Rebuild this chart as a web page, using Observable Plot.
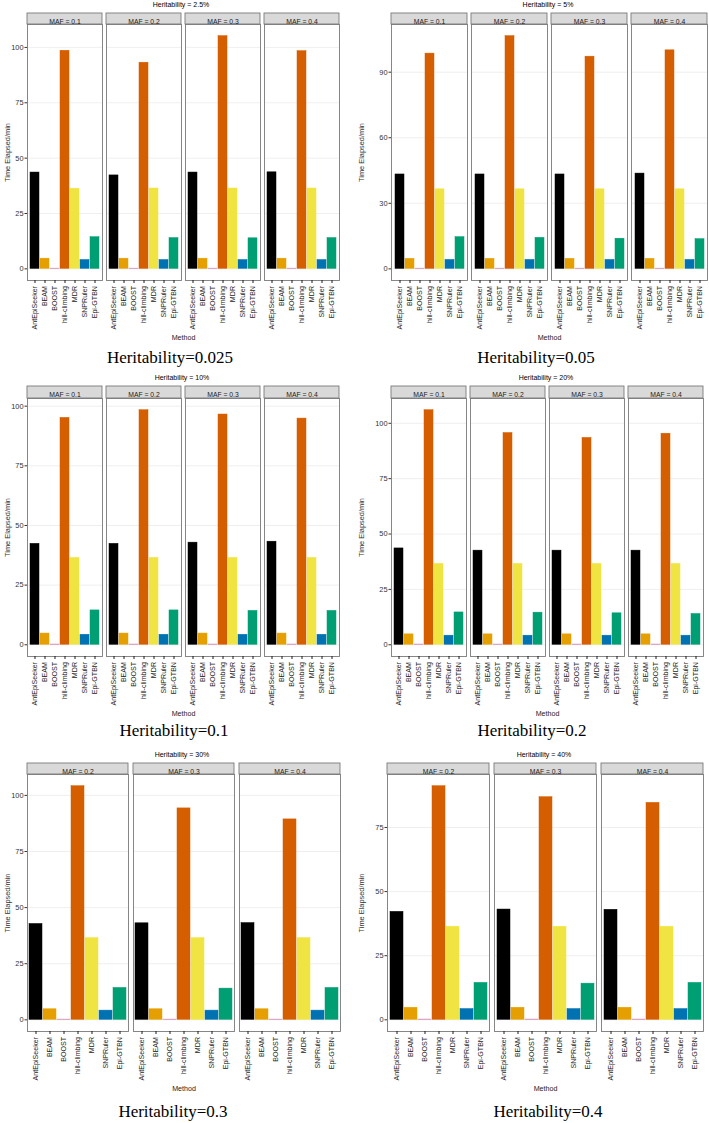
<!DOCTYPE html>
<html><head><meta charset="utf-8">
<script src="https://cdn.jsdelivr.net/npm/d3@7"></script>
<script src="https://cdn.jsdelivr.net/npm/@observablehq/plot@0.6"></script>
<style>
body{margin:0;background:#fff;}
#root{position:relative;width:709px;height:1123px;overflow:hidden;font-family:"Liberation Sans",Arial,sans-serif;}
.ttl{position:absolute;font-size:7px;color:#000;white-space:nowrap;transform:translate(-50%,-50%);}
.cap{position:absolute;font-family:"Liberation Serif","Times New Roman",serif;font-size:17px;color:#000;white-space:nowrap;transform:translate(-50%,-50%);}
.pnl{position:absolute;}
</style></head><body><div id="root"></div>
<script>
// ---- data ----
const methods = ["AntEpiSeeker","BEAM","BOOST","hill-climbing","MDR","SNPRuler","Epi-GTBN"];
const methodColors = ["#000000","#E69F00","#CC79A7","#D55E00","#F0E442","#0072B2","#009E73"];

const mafs4 = ["0.1","0.2","0.3","0.4"];
const mafs3 = ["0.2","0.3","0.4"];

const h025 = [
  [43.5, 4.6, 0.1,  98.5, 36.2, 4.0, 14.3],
  [42.2, 4.6, 0.1,  93.1, 36.3, 4.0, 13.9],
  [43.5, 4.6, 0.1, 105.1, 36.3, 4.0, 13.8],
  [43.6, 4.6, 0.1,  98.3, 36.3, 4.0, 13.9]
];
const h05 = [
  [43.2, 4.6, 0.1,  98.5, 36.4, 4.1, 14.5],
  [43.2, 4.6, 0.1, 106.5, 36.4, 4.1, 14.2],
  [43.2, 4.6, 0.1,  97.1, 36.4, 4.1, 13.8],
  [43.6, 4.6, 0.1, 100.0, 36.4, 4.1, 13.6]
];
const h10 = [
  [42.3, 4.7, 0.1, 95.1, 36.4, 4.2, 14.4],
  [42.3, 4.7, 0.1, 98.3, 36.4, 4.2, 14.4],
  [42.8, 4.7, 0.1, 96.5, 36.4, 4.2, 14.2],
  [43.2, 4.7, 0.1, 94.8, 36.4, 4.2, 14.2]
];
const h20 = [
  [43.5, 4.7, 0.1, 105.9, 36.5, 4.1, 14.6],
  [42.5, 4.7, 0.1,  95.6, 36.5, 4.1, 14.5],
  [42.5, 4.7, 0.1,  93.4, 36.5, 4.1, 14.2],
  [42.5, 4.7, 0.1,  95.3, 36.5, 4.1, 13.9]
];
const h30 = [
  [42.7, 4.7, 0.1, 104.1, 36.4, 4.1, 14.2],
  [43.0, 4.7, 0.1,  94.2, 36.4, 4.1, 13.9],
  [43.1, 4.7, 0.1,  89.3, 36.4, 4.1, 14.2]
];
const h40 = [
  [42.1, 4.7, 0.1, 91.1, 36.3, 4.2, 14.4],
  [43.0, 4.7, 0.1, 86.8, 36.3, 4.2, 14.1],
  [42.9, 4.7, 0.1, 84.6, 36.3, 4.2, 14.4]
];

const ticksA = [0, 25, 50, 75, 100];
const ticksB = [0, 30, 60, 90];
const ticksC = [0, 25, 50, 75];

const titles = ["Heritability = 2.5%","Heritability = 5%","Heritability = 10%","Heritability = 20%","Heritability = 30%","Heritability = 40%"];
const captions = ["Heritability=0.025","Heritability=0.05","Heritability=0.1","Heritability=0.2","Heritability=0.3","Heritability=0.4"];

// ---- layout ----
const panels = [
  {vals: h025, mafs: mafs4, ticks: ticksA, left: 0,   top: 13,  mL: 26, mR: 14, mT: 11, frameH: 256, tx: 181, ty: 4,   cx: 170, cy: 358},
  {vals: h05,  mafs: mafs4, ticks: ticksB, left: 354, top: 13,  mL: 36, mR: 2,  mT: 11, frameH: 256, tx: 548, ty: 4,   cx: 536, cy: 358},
  {vals: h10,  mafs: mafs4, ticks: ticksA, left: 0,   top: 386, mL: 26, mR: 14, mT: 12, frameH: 258, tx: 182, ty: 377, cx: 174, cy: 731},
  {vals: h20,  mafs: mafs4, ticks: ticksA, left: 354, top: 386, mL: 36, mR: 5,  mT: 12, frameH: 258, tx: 546, ty: 377, cx: 532, cy: 731},
  {vals: h30,  mafs: mafs3, ticks: ticksA, left: 0,   top: 763, mL: 26, mR: 14, mT: 11, frameH: 257, tx: 182, ty: 754, cx: 173, cy: 1112},
  {vals: h40,  mafs: mafs3, ticks: ticksC, left: 354, top: 763, mL: 32, mR: 5,  mT: 11, frameH: 257, tx: 544, ty: 754, cx: 548, cy: 1112}
];

const root = document.getElementById("root");
const mB = 62;

panels.forEach((p, k) => {
  const rows = [];
  p.mafs.forEach((m, i) => methods.forEach((meth, j) => rows.push({maf: m, method: meth, value: p.vals[i][j]})));
  const vmax = d3.max(rows, d => d.value);
  const strips = p.mafs.map(m => ({maf: m}));
  const width = 355 - (k % 2 === 0 ? 1 : 0);
  const height = p.mT + p.frameH + mB;

  const chart = Plot.plot({
    width, height,
    marginTop: p.mT, marginBottom: mB, marginLeft: p.mL, marginRight: p.mR,
    style: {fontFamily: "'Liberation Sans', Arial, sans-serif", fontSize: "7.4px", background: "white", overflow: "visible"},
    fx: {domain: p.mafs, paddingInner: 0.05, axis: null},
    x: {domain: methods, paddingInner: 0.1, paddingOuter: 0.15},
    y: {domain: [-0.05 * vmax, 1.05 * vmax]},
    color: {domain: methods, range: methodColors},
    marks: [
      Plot.gridY(p.ticks, {stroke: "#EBEBEB", strokeOpacity: 1, strokeWidth: 0.8}),
      Plot.barY(rows, {fx: "maf", x: "method", y: "value", fill: "method", stroke: "method", strokeWidth: 0.5}),
      Plot.frame({stroke: "#7A7A7A", strokeWidth: 0.9}),
      Plot.rect(strips, {fx: "maf", insetTop: -p.mT, insetBottom: p.frameH, fill: "#D9D9D9", stroke: "#7A7A7A", strokeWidth: 0.9}),
      Plot.text(strips, {fx: "maf", text: d => `MAF = ${d.maf}`, frameAnchor: "top", dy: -p.mT / 2, fontSize: 6.8, fill: "#1A1A1A"}),
      Plot.axisY(p.ticks, {tickSize: 2.5, tickPadding: 1.5, fontSize: 7.4, color: "#333", stroke: "#333",
        label: "Time Elapsed/min", labelAnchor: "center", labelArrow: "none", labelOffset: p.mL - 3}),
      Plot.axisX({tickRotate: -90, tickSize: 3, tickPadding: 2.5, fontSize: 7.1, color: "#1A1A1A",
        label: "Method", labelAnchor: "center", labelArrow: "none", labelOffset: 59})
    ]
  });
  const div = document.createElement("div");
  div.className = "pnl";
  div.style.left = p.left + "px";
  div.style.top = p.top + "px";
  div.appendChild(chart);
  root.appendChild(div);

  const t = document.createElement("div");
  t.className = "ttl"; t.textContent = titles[k];
  t.style.left = p.tx + "px"; t.style.top = p.ty + "px";
  root.appendChild(t);

  const c = document.createElement("div");
  c.className = "cap"; c.textContent = captions[k];
  c.style.left = p.cx + "px"; c.style.top = p.cy + "px";
  root.appendChild(c);
});
</script>
</body></html>
